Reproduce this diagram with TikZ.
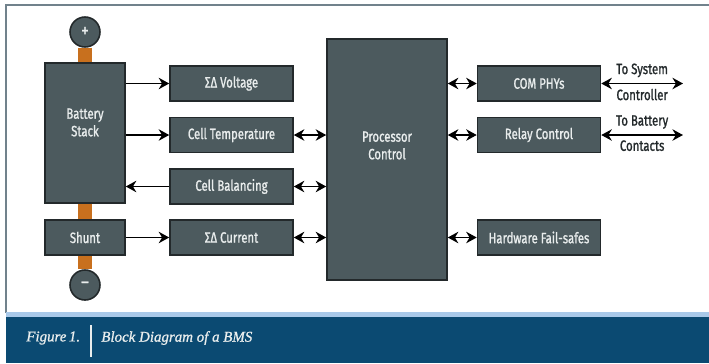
\documentclass[tikz,border=0pt]{standalone}
\usepackage{fontspec}
\setmainfont[FakeStretch=0.76,FakeBold=1.2]{Fira Sans}
\newfontfamily\capfont[FakeBold=1]{Liberation Serif}
\usetikzlibrary{arrows.meta,backgrounds}

\definecolor{slate}{HTML}{4C5A5E}
\definecolor{edge}{HTML}{23292B}
\definecolor{boxtext}{HTML}{E9EDED}
\definecolor{wire}{HTML}{C8701E}
\definecolor{frame}{HTML}{71828C}
\definecolor{band}{HTML}{0B4A72}
\definecolor{bandlight}{HTML}{A9C9E9}

\begin{document}
\begin{tikzpicture}[x=0.02cm,y=-0.02cm,font=\fontsize{8.5}{10}\selectfont,
  blk/.style={draw=edge,line width=0.9pt,fill=slate,text=boxtext,inner sep=0pt,align=center},
  sm/.style={blk,minimum width=2.46cm,minimum height=0.7cm},
  term/.style={circle,draw=edge,line width=0.9pt,fill=slate,text=boxtext,minimum size=0.6cm,inner sep=0pt,
    font=\fontsize{11}{11}\selectfont},
  link/.style={line width=1.1pt,-{Stealth[length=6pt,width=6.5pt]}},
  duplex/.style={line width=1.1pt,{Stealth[length=6pt,width=6.5pt]}-{Stealth[length=6pt,width=6.5pt]}},
  stem/.style={wire,line width=8.5pt},
  side/.style={text=edge,inner sep=0pt},
  capstyle/.style={text=boxtext,font=\capfont\itshape\fontsize{8.5}{10}\selectfont,inner sep=0pt}]
\useasboundingbox (0,0) rectangle (709,363);

% frame and caption band
\draw[frame,line width=1.1pt] (6,313) -- (6,5) -- (709,5);
\fill[bandlight] (6,312) rectangle (709,317);
\fill[band] (6,317) rectangle (709,363);
\node[capstyle,anchor=west] (fignum) at (26,338) {Figure\,1.};
\draw[boxtext,line width=0.6pt] (91,325) -- (91,357);
\node[capstyle,anchor=west] (figtitle) at (101,338) {Block Diagram of a BMS};

% battery side
\node[term] (plus) at (85,32) {+};
\node[blk,minimum width=1.6cm,minimum height=2.8cm,
  label={[text=boxtext,align=center,yshift=6pt]center:Battery\\Stack}] (bstack) at (85,133) {};
\node[blk,minimum width=1.6cm,minimum height=0.7cm] (shunt) at (85,237.5) {Shunt};
\node[term] (minus) at (85,285) {--};
\begin{scope}[on background layer]
\draw[stem] (plus) -- (bstack);
\draw[stem] (bstack) -- (shunt);
\draw[stem] (shunt) -- (minus);
\end{scope}

% sensing column
\node[sm] (volt) at (231.5,83.5) {ΣΔ Voltage};
\node[sm] (temp) at (231.5,135) {Cell Temperature};
\node[sm] (bal) at (231.5,186.5) {Cell Balancing};
\node[sm] (cur) at (231.5,237.5) {ΣΔ Current};

% processor
\node[blk,minimum width=2.4cm,minimum height=4.82cm,
  label={[text=boxtext,align=center,yshift=8pt]center:Processor\\Control}] (proc) at (387,159.5) {};

% outputs
\node[sm] (com) at (539,83.5) {COM PHYs};
\node[sm] (relay) at (539,135) {Relay Control};
\node[sm] (fail) at (539,237.5) {Hardware Fail-safes};
\coordinate (sysend) at (683,83.5);
\coordinate (contend) at (683,135);

\draw[link] (bstack.east |- volt) -- (volt.west);
\draw[link] (bstack.east |- temp) -- (temp.west);
\draw[link] (bal.west) -- (bal.west -| bstack.east);
\draw[link] (shunt.east) -- (cur.west);

\draw[duplex] (temp.east) -- (temp.east -| proc.west);
\draw[duplex] (bal.east) -- (bal.east -| proc.west);
\draw[duplex] (cur.east) -- (cur.east -| proc.west);
\draw[duplex] (proc.east |- com) -- (com.west);
\draw[duplex] (proc.east |- relay) -- (relay.west);
\draw[duplex] (proc.east |- fail) -- (fail.west);

\draw[duplex] (com.east) -- (sysend)
  node[midway,above=3pt,side] (systxt) {To System}
  node[midway,below=2.5pt,side] (ctltxt) {Controller};
\draw[duplex] (relay.east) -- (contend)
  node[midway,above=3pt,side] (battxt) {To Battery}
  node[midway,below=2.5pt,side] (contxt) {Contacts};
\end{tikzpicture}
\end{document}
